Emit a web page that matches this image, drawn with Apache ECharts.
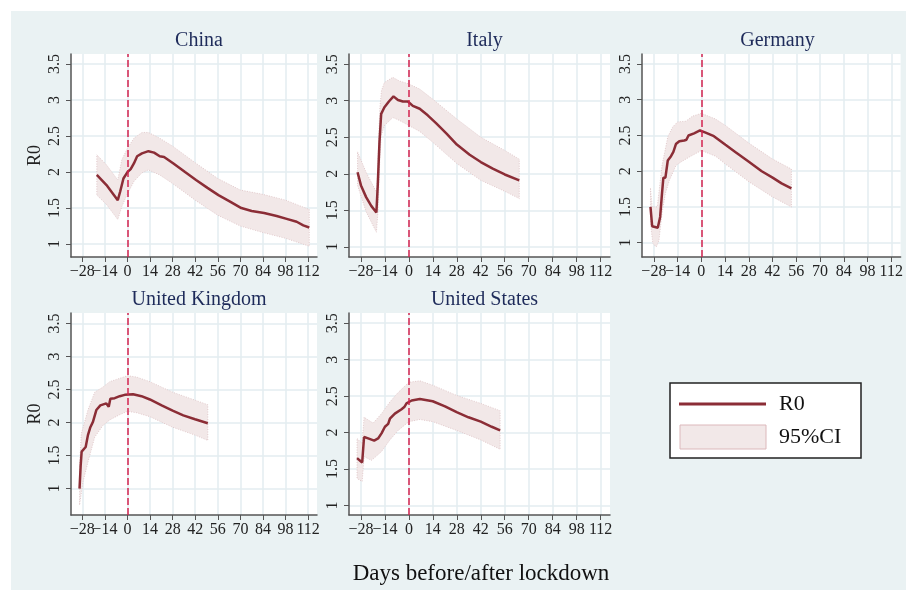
<!DOCTYPE html>
<html><head><meta charset="utf-8">
<script src="https://cdn.jsdelivr.net/npm/echarts@6/dist/echarts.min.js"></script>
<style>
html,body{margin:0;padding:0;background:#fff}
#bg{position:absolute;left:11px;top:11px;width:895px;height:579px;background:#eaf2f3}
#c{position:absolute;left:0;top:0;width:906px;height:590px}
</style>
</head><body><div id="bg"></div><div id="c"></div>
<script>
const countries = ['China', 'Italy', 'Germany', 'United Kingdom', 'United States'];
const xTicks = [-28, -14, 0, 14, 28, 42, 56, 70, 84, 98, 112];
const yTicks = [1, 1.5, 2, 2.5, 3, 3.5];
const xTitle = 'Days before/after lockdown';
const legendLabels = ['R0', '95%CI'];

const chinaR0 = [[-19,1.96],[-13,1.82],[-9,1.70],[-6,1.61],[-4.5,1.73],[-2.5,1.91],[0,2.0],[2,2.04],[4,2.12],[6,2.22],[9,2.26],[13,2.29],[16.5,2.27],[20,2.22],[22.7,2.21],[28.5,2.12],[35.7,2.0],[42.5,1.89],[49.6,1.78],[56.4,1.68],[63.6,1.59],[70.6,1.50],[77,1.46],[84.7,1.43],[92.5,1.39],[98.7,1.35],[104.9,1.31],[109,1.26],[112.7,1.23]];
const chinaUpper = [[-19,2.24],[-13,2.10],[-6,1.89],[-3.5,2.17],[0,2.33],[4,2.47],[9,2.55],[13,2.55],[20,2.47],[28,2.36],[42,2.13],[56,1.91],[70,1.75],[84,1.69],[98,1.61],[112.7,1.48]];
const chinaLower = [[-19,1.68],[-13,1.55],[-6,1.34],[-3.5,1.52],[0,1.70],[4,1.87],[9,1.99],[13,2.03],[20,1.96],[28,1.84],[42,1.61],[56,1.40],[70,1.25],[84,1.16],[98,1.08],[112.7,0.97]];

const italyR0 = [[-30,2.02],[-28,1.84],[-25,1.68],[-22,1.56],[-19,1.47],[-18.2,1.84],[-17.2,2.43],[-16.2,2.82],[-14.3,2.91],[-11.7,2.99],[-9,3.06],[-6.4,3.01],[-3.5,2.99],[-0.6,2.99],[2.3,2.93],[6.3,2.89],[11,2.80],[16,2.69],[22,2.55],[28,2.40],[35.5,2.26],[42,2.16],[49,2.07],[56,1.99],[64.5,1.91]];
const italyUpper = [[-30,2.30],[-25,2.02],[-19,1.75],[-18.5,1.9],[-17,2.9],[-16,3.14],[-14.3,3.25],[-9.4,3.32],[-5.5,3.27],[0,3.23],[6.3,3.16],[14,3.02],[28,2.75],[42,2.50],[56,2.32],[64.5,2.20]];
const italyLower = [[-30,1.84],[-25,1.48],[-19,1.20],[-18,1.5],[-17,2.2],[-16.2,2.52],[-14.3,2.66],[-9.4,2.77],[-5.5,2.73],[0,2.66],[6.3,2.58],[14,2.43],[28,2.14],[42,1.91],[56,1.76],[64.5,1.66]];

const germanyR0 = [[-30,1.50],[-29,1.23],[-25.7,1.21],[-24.3,1.36],[-23.2,1.69],[-22.4,1.91],[-21.2,1.91],[-19.8,2.15],[-17.9,2.21],[-16.5,2.27],[-15,2.38],[-13,2.42],[-10.1,2.43],[-8.8,2.44],[-7.6,2.50],[-4.3,2.53],[-0.8,2.57],[2.5,2.54],[7.4,2.49],[14.2,2.37],[20,2.27],[28.2,2.13],[35.6,2.00],[42,1.91],[47.3,1.83],[53.1,1.76]];
const germanyUpper = [[-30,1.76],[-29,1.50],[-26,1.50],[-23.2,2.08],[-19.8,2.48],[-16.9,2.62],[-14,2.69],[-9.1,2.70],[-5.3,2.77],[0,2.81],[8.4,2.73],[14.2,2.64],[28.2,2.39],[42,2.17],[53.1,2.03]];
const germanyLower = [[-30,1.27],[-28.6,0.99],[-26.6,0.94],[-25,1.03],[-23.2,1.41],[-21.2,1.69],[-18.9,1.87],[-15,2.08],[-12,2.13],[-7,2.20],[0,2.29],[8.4,2.21],[14.2,2.10],[28.2,1.85],[42,1.64],[53.1,1.50]];

const ukR0 = [[-29.7,1.0],[-29,1.35],[-28.4,1.56],[-27.2,1.53],[-25.9,1.63],[-24.5,1.81],[-23,1.93],[-21.4,2.01],[-19.3,2.19],[-16.8,2.26],[-13.1,2.29],[-11.6,2.24],[-10.6,2.36],[-7.9,2.37],[-4.8,2.40],[-1.7,2.42],[3.5,2.43],[8.7,2.40],[13.9,2.35],[21.2,2.26],[28,2.18],[34.6,2.11],[41.9,2.05],[49.8,1.99]];
const ukUpper = [[-29.7,1.35],[-28.6,1.83],[-24.5,2.19],[-20.3,2.46],[-15.1,2.54],[-11,2.62],[0,2.71],[5.6,2.69],[13.9,2.62],[28,2.46],[41.9,2.34],[49.8,2.27]];
const ukLower = [[-29.7,0.75],[-27.6,1.10],[-24.5,1.40],[-20.3,1.78],[-15.1,1.96],[-11,2.04],[-4.8,2.12],[0,2.17],[5.6,2.15],[13.9,2.09],[28,1.93],[41.9,1.81],[49.8,1.73]];

const usR0 = [[-30.3,1.65],[-27.3,1.59],[-26.2,1.94],[-23.8,1.92],[-20.3,1.89],[-18,1.92],[-16,1.99],[-14,2.08],[-12.1,2.12],[-11.1,2.19],[-8.2,2.26],[-4.3,2.32],[-2.7,2.35],[-1.4,2.40],[1.6,2.44],[6.4,2.46],[13.9,2.43],[21.1,2.36],[27.9,2.28],[34.8,2.21],[42,2.15],[48.4,2.08],[53.3,2.03]];
const usUpper = [[-30.3,1.92],[-27.3,1.85],[-26.2,2.21],[-20.9,2.13],[-16,2.26],[-11.1,2.42],[-6.3,2.55],[0,2.69],[6.4,2.71],[13.9,2.65],[27.9,2.51],[42,2.40],[53.3,2.30]];
const usLower = [[-30.3,1.37],[-27.3,1.33],[-26.2,1.67],[-21.9,1.62],[-20.3,1.65],[-16,1.74],[-11.1,1.90],[-6.3,2.03],[0,2.15],[6.4,2.18],[13.9,2.15],[27.9,2.03],[42,1.90],[53.3,1.77]];

const lockdownDay = 0;
const X_MIN = -35, X_MAX = 117.5;

const panels = [
  {name: countries[0], r0: chinaR0, up: chinaUpper, lo: chinaLower, grid: {left: 71, top: 54, width: 246, height: 203}, yr: [0.82, 3.64], yName: 'R0', vlineZ: 3},
  {name: countries[1], r0: italyR0, up: italyUpper, lo: italyLower, grid: {left: 349, top: 54, width: 261, height: 203}, yr: [0.86, 3.64], yName: '', vlineZ: 3},
  {name: countries[2], r0: germanyR0, up: germanyUpper, lo: germanyLower, grid: {left: 642, top: 54, width: 261, height: 203}, yr: [0.80, 3.64], yName: '', vlineZ: 3},
  {name: countries[3], r0: ukR0, up: ukUpper, lo: ukLower, grid: {left: 71, top: 313, width: 246, height: 202}, yr: [0.60, 3.66], yName: 'R0', vlineZ: 3},
  {name: countries[4], r0: usR0, up: usUpper, lo: usLower, grid: {left: 349, top: 313, width: 261, height: 202}, yr: [0.87, 3.64], yName: '', vlineZ: 1}
];

const FONT = '"Liberation Serif", "Times New Roman", serif';
const LINE = '#8b2d36';
const BAND = '#f2e8e8';
const BAND_EDGE = '#dcbfc2';
const VLINE = '#d4234f';
const AXIS = '#555555';
const GRIDLINE = '#e3ecf0';

// a placeholder label at the axis minimum absorbs ECharts' min-label overlap hiding
const xLabelValues = [X_MIN].concat(xTicks);

const grids = [], xAxes = [], yAxes = [], series = [], titles = [];
panels.forEach((p, i) => {
  grids.push(Object.assign({show: true, backgroundColor: '#ffffff', borderWidth: 0, containLabel: false}, p.grid));
  titles.push({
    text: p.name, left: p.grid.left + p.grid.width / 2, top: p.grid.top - 28, textAlign: 'center',
    textStyle: {fontFamily: FONT, fontSize: 20, fontWeight: 'normal', color: '#1e2b5a'}
  });
  xAxes.push({
    gridIndex: i, type: 'value', min: X_MIN, max: X_MAX,
    axisLine: {show: true, onZero: false, lineStyle: {color: AXIS, width: 1.5}},
    axisTick: {show: true, customValues: xTicks, length: 5, lineStyle: {color: AXIS, width: 1}},
    axisLabel: {customValues: xLabelValues, margin: 7, fontFamily: FONT, fontSize: 16, color: '#222',
      hideOverlap: false, showMinLabel: false, showMaxLabel: true,
      formatter: v => (v < xTicks[0] ? ' ' : String(v).replace('-', '\u2212'))},
    splitLine: {show: true, lineStyle: {color: GRIDLINE, width: 1.5}}
  });
  yAxes.push({
    gridIndex: i, type: 'value', min: p.yr[0], max: p.yr[1],
    name: p.yName, nameLocation: 'middle', nameRotate: 90, nameGap: 27,
    nameTextStyle: {fontFamily: FONT, fontSize: 18, color: '#222'},
    axisLine: {show: true, onZero: false, lineStyle: {color: AXIS, width: 1.5}},
    axisTick: {show: true, customValues: yTicks, length: 5, lineStyle: {color: AXIS, width: 1}},
    axisLabel: {customValues: yTicks, rotate: 90, margin: 8, fontFamily: FONT, fontSize: 16, color: '#222',
      hideOverlap: false, showMinLabel: true, showMaxLabel: true},
    splitLine: {show: true, lineStyle: {color: GRIDLINE, width: 1.5}}
  });
  series.push({
    type: 'custom', name: legendLabels[1], xAxisIndex: i, yAxisIndex: i, z: 2, silent: true,
    data: [[lockdownDay, p.r0[0][1]]],
    renderItem: (params, api) => {
      const pts = p.up.map(d => api.coord(d)).concat(p.lo.slice().reverse().map(d => api.coord(d)));
      return {type: 'polygon', shape: {points: pts},
        style: {fill: BAND, stroke: BAND_EDGE, lineWidth: 0.8, lineDash: [1, 1.5]}};
    }
  });
  series.push({
    type: 'line', xAxisIndex: i, yAxisIndex: i, data: [], z: p.vlineZ, silent: true,
    markLine: {silent: true, symbol: ['none', 'none'], label: {show: false},
      lineStyle: {color: VLINE, type: [7, 3], width: 1.5}, emphasis: {disabled: true},
      data: [{xAxis: lockdownDay}]}
  });
  series.push({
    type: 'line', name: legendLabels[0], xAxisIndex: i, yAxisIndex: i, z: 4, data: p.r0,
    showSymbol: false, symbol: 'none', lineStyle: {color: LINE, width: 2.5}, silent: true
  });
});

const chart = echarts.init(document.getElementById('c'), null, {renderer: 'canvas'});
chart.setOption({
  backgroundColor: 'transparent',
  animation: false,
  title: titles,
  grid: grids, xAxis: xAxes, yAxis: yAxes, series: series,
  graphic: [
    {type: 'text', x: 481, y: 574, style: {text: xTitle, fontFamily: FONT, fontSize: 23, fill: '#111', align: 'center', verticalAlign: 'middle'}},
    {type: 'rect', shape: {x: 670, y: 383, width: 191, height: 75}, style: {fill: '#fff', stroke: '#222', lineWidth: 1.5}, z: 10},
    {type: 'line', shape: {x1: 679, y1: 404, x2: 766, y2: 404}, style: {stroke: LINE, lineWidth: 3}, z: 11},
    {type: 'rect', shape: {x: 680, y: 425, width: 86, height: 24}, style: {fill: BAND, stroke: '#dcb8bb', lineWidth: 1}, z: 11},
    {type: 'text', x: 779, y: 404, style: {text: legendLabels[0], fontFamily: FONT, fontSize: 22, fill: '#111', verticalAlign: 'middle'}, z: 11},
    {type: 'text', x: 779, y: 437, style: {text: legendLabels[1], fontFamily: FONT, fontSize: 22, fill: '#111', verticalAlign: 'middle'}, z: 11}
  ]
});
</script>
</body></html>
